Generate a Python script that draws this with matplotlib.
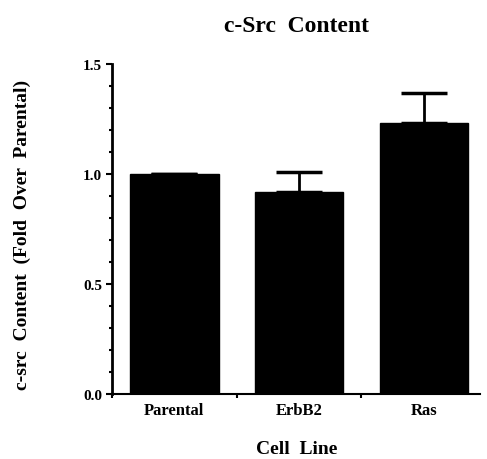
import matplotlib
matplotlib.use("Agg")
import matplotlib.pyplot as plt
import numpy as np

categories = ["Parental", "ErbB2", "Ras"]
values = [1.0, 0.92, 1.23]
errors = [0.0, 0.09, 0.14]
yticks = [0.0, 0.5, 1.0, 1.5]
ytick_labels = ["0.0", "0.5", "1.0", "1.5"]

plt.rcParams['font.family'] = ['Liberation Serif', 'DejaVu Serif']
plt.rcParams['font.weight'] = 'bold'

W, H = 487, 460
fig = plt.figure(figsize=(W / 100, H / 100), dpi=100)
ax = fig.add_axes([0.23, 0.1413, 0.7556, 0.7174])

x = np.arange(len(categories))
ax.bar(x, values, width=0.71, color='black', edgecolor='black')
ax.errorbar(x, values, yerr=[np.zeros(len(errors)), errors], fmt='none',
            ecolor='black', elinewidth=2, capsize=16.5, capthick=2.5)

ax.set_xlim(-0.5, 2.45)
ax.set_ylim(0, 1.5)
ax.spines['top'].set_visible(False)
ax.spines['right'].set_visible(False)
ax.spines['left'].set_linewidth(2)
ax.spines['bottom'].set_linewidth(1.5)

ax.set_yticks(yticks)
ax.set_yticklabels(ytick_labels, fontsize=11, fontweight='bold')
ax.set_yticks(np.arange(0, 1.51, 0.1), minor=True)
ax.tick_params(axis='y', which='major', direction='out', length=4, width=1.5, pad=3)
ax.tick_params(axis='y', which='minor', direction='out', length=2, width=1.5)

ax.set_xticks([-0.5, 0.5, 1.5])
ax.set_xticklabels([])
ax.tick_params(axis='x', which='major', direction='out', length=3, width=1.5)
ax.set_xticks(x, minor=True)
ax.set_xticklabels(categories, minor=True, fontsize=12, fontweight='bold')
ax.tick_params(axis='x', which='minor', length=0, pad=6)

fig.text(297 / W, 1 - 450 / H, "Cell  Line", ha='center', va='center',
         fontsize=14, fontweight='bold')
fig.text(22 / W, 1 - 235 / H, "c-src  Content  (Fold  Over  Parental)", ha='center',
         va='center', rotation=90, fontsize=14, fontweight='bold')
fig.text(297 / W, 1 - 26 / H, "c-Src  Content", ha='center', va='center',
         fontsize=17, fontweight='bold')

fig.savefig("out.png", dpi=100)
